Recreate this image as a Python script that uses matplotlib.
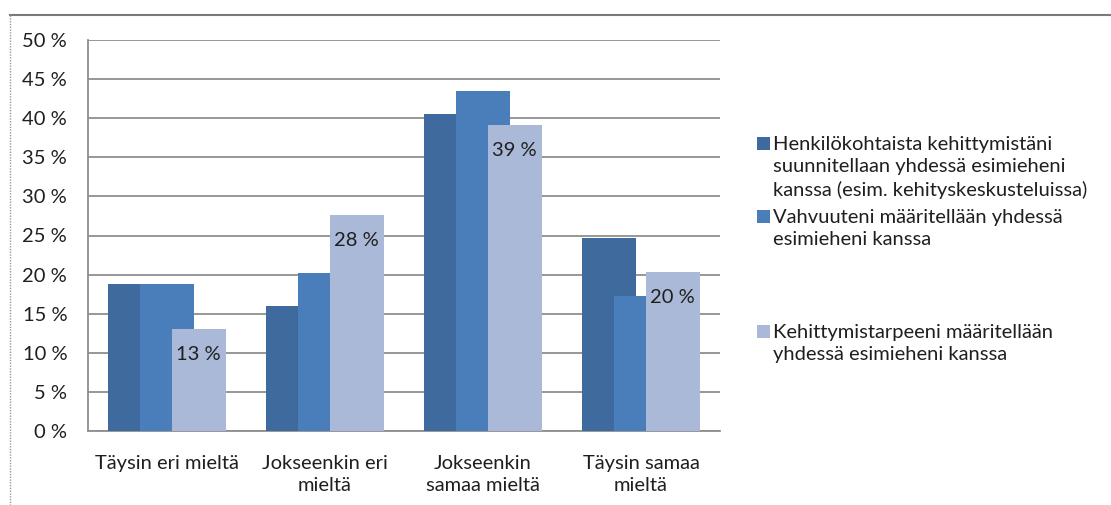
import matplotlib
matplotlib.use("Agg")
import matplotlib.pyplot as plt
from matplotlib.lines import Line2D
from matplotlib.patches import Rectangle
import numpy as np

plt.rcParams['font.family'] = ['Lato', 'DejaVu Sans']

categories = ["Täysin eri mieltä", "Jokseenkin eri\nmieltä",
              "Jokseenkin\nsamaa mieltä", "Täysin samaa\nmieltä"]
series_names = [
    "Henkilökohtaista kehittymistäni\nsuunnitellaan yhdessä esimieheni\nkanssa (esim. kehityskeskusteluissa)",
    "Vahvuuteni määritellään yhdessä\nesimieheni kanssa",
    "Kehittymistarpeeni määritellään\nyhdessä esimieheni kanssa",
]
henkilokohtaista = [18.8, 16.0, 40.6, 24.7]
vahvuuteni = [18.8, 20.2, 43.5, 17.3]
kehittymistarpeeni = [13.0, 27.6, 39.1, 20.3]
yticks = [0, 5, 10, 15, 20, 25, 30, 35, 40, 45, 50]
colors = ['#3e6a9d', '#4a7ebb', '#aab9d7']
text_color = '#1f1f1f'
FS = 14.5

W, H = 1111, 505
fig = plt.figure(figsize=(W / 100, H / 100), dpi=100)
ax = fig.add_axes([88 / W, 1 - 431 / H, (720 - 88) / W, (431 - 40) / H])

x = np.arange(len(categories))
width = 0.339
step = 0.201
all_series = [henkilokohtaista, vahvuuteni, kehittymistarpeeni]
for i, (vals, c) in enumerate(zip(all_series, colors)):
    ax.bar(x + (i - 1) * step, vals, width=width, color=c, zorder=3 + i,
           linewidth=0)

for xi, v in zip(x, kehittymistarpeeni):
    ax.annotate(f"{v:.0f} %", xy=(xi + step, v), xytext=(0, -25),
                textcoords='offset pixels', ha='center', va='center',
                fontsize=FS, color=text_color, zorder=10)

ax.set_xlim(-0.5, 3.5)
ax.set_ylim(0, 50)
ax.set_yticks(yticks)
ax.set_yticklabels([f"{t} %" for t in yticks], fontsize=FS, color=text_color)
ax.set_xticks(x)
ax.set_xticklabels(categories, fontsize=FS, color=text_color, linespacing=1.38,
                   va='top')
ax.tick_params(axis='y', length=0, pad=15)
ax.tick_params(axis='x', length=0, pad=17)
ax.grid(axis='y', color='#8f8f8f', linewidth=1.3, zorder=0)
ax.set_axisbelow(True)
for s in ['top', 'right']:
    ax.spines[s].set_visible(False)
ax.spines['left'].set_color('#8f8f8f')
ax.spines['bottom'].set_color('#8f8f8f')
ax.spines['left'].set_linewidth(1.3)
ax.spines['bottom'].set_linewidth(1.3)

# legend built manually
leg_first_line_y = [143, 216, 331]
for name, c, ly in zip(series_names, colors, leg_first_line_y):
    fig.patches.append(Rectangle((757 / W, 1 - (ly + 6.5) / H), 13 / W, 13 / H,
                                 transform=fig.transFigure, facecolor=c,
                                 edgecolor='none'))
    fig.text(773 / W, 1 - (ly - 7) / H, name, fontsize=FS, color=text_color,
             ha='left', va='top', linespacing=1.38)

# outer frame lines
fig.add_artist(Line2D([10 / W, 1], [1 - 15 / H, 1 - 15 / H],
                      transform=fig.transFigure, color='#7a7a7a', linewidth=1.5))
fig.add_artist(Line2D([10 / W, 10 / W], [1 - 15 / H, 0],
                      transform=fig.transFigure, color='#9a9a9a', linewidth=1.0,
                      linestyle=(0, (1, 1))))

fig.savefig("out.png", dpi=100)
